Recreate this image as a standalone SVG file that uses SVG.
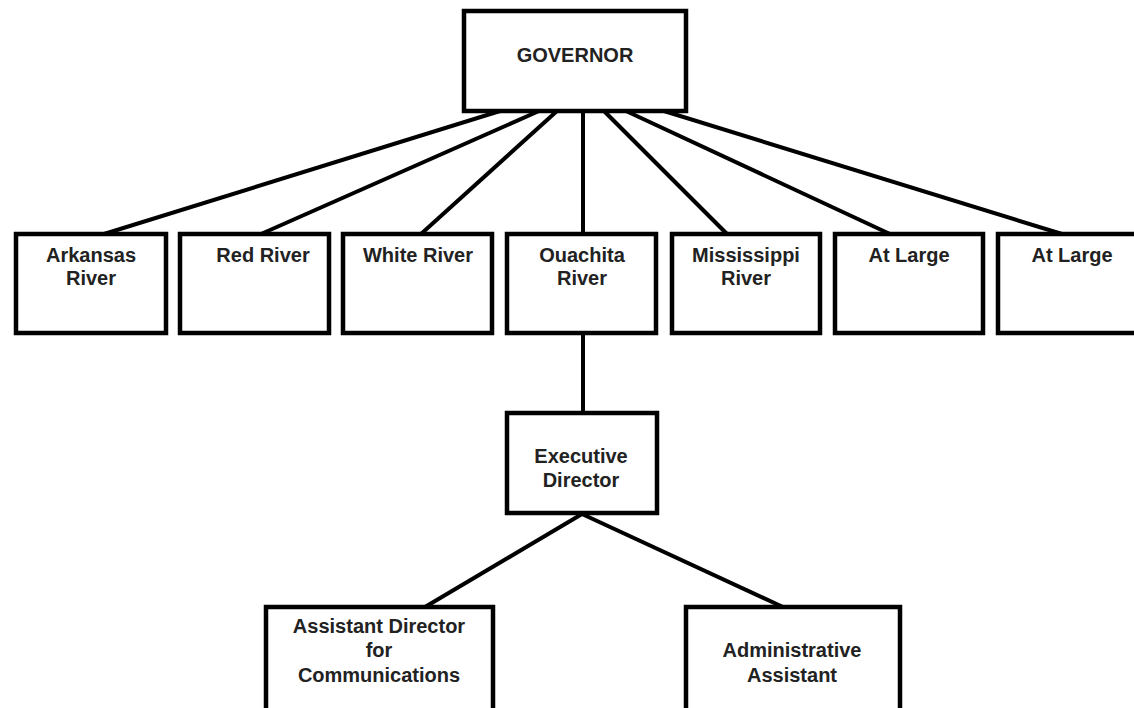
<svg xmlns="http://www.w3.org/2000/svg" width="1134" height="708" viewBox="0 0 1134 708">
<style>
.box{fill:#fff;stroke:#000;stroke-width:4.5}
.t{font-family:"Liberation Sans",Arial,sans-serif;font-weight:bold;font-size:20px;fill:#222;text-anchor:middle}
.c{stroke:#000;stroke-width:4;fill:none}
</style>
<rect width="1134" height="708" fill="#fff"/>
<g id="connectors">
<line class="c" x1="500" y1="111" x2="104" y2="234"/>
<line class="c" x1="539" y1="111" x2="261" y2="234"/>
<line class="c" x1="557" y1="111" x2="421" y2="234"/>
<line class="c" x1="583" y1="111" x2="583" y2="234"/>
<line class="c" x1="604" y1="111" x2="727" y2="234"/>
<line class="c" x1="626" y1="111" x2="890" y2="234"/>
<line class="c" x1="664" y1="111" x2="1062" y2="234"/>
<line class="c" x1="583" y1="333" x2="583" y2="413"/>
<line class="c" x1="582" y1="514" x2="425" y2="607"/>
<line class="c" x1="582" y1="514" x2="783" y2="607"/>
</g>
<g id="governor"><rect class="box" x="464" y="11" width="222" height="100"/><text class="t" x="575" y="62">GOVERNOR</text></g>
<g id="arkansas"><rect class="box" x="16" y="234" width="150" height="99"/><text class="t" x="91" y="262">Arkansas</text><text class="t" x="91" y="285">River</text></g>
<g id="red"><rect class="box" x="180" y="234" width="149" height="99"/><text class="t" x="263" y="262">Red River</text></g>
<g id="white"><rect class="box" x="343" y="234" width="149" height="99"/><text class="t" x="418" y="262">White River</text></g>
<g id="ouachita"><rect class="box" x="507" y="234" width="149" height="99"/><text class="t" x="582" y="262">Ouachita</text><text class="t" x="582" y="285">River</text></g>
<g id="mississippi"><rect class="box" x="672" y="234" width="148" height="99"/><text class="t" x="746" y="262">Mississippi</text><text class="t" x="746" y="285">River</text></g>
<g id="atlarge1"><rect class="box" x="835" y="234" width="148" height="99"/><text class="t" x="909" y="262">At Large</text></g>
<g id="atlarge2"><rect class="box" x="998" y="234" width="150" height="99"/><text class="t" x="1072" y="262">At Large</text></g>
<g id="executive"><rect class="box" x="507" y="413" width="150" height="100"/><text class="t" x="581" y="463">Executive</text><text class="t" x="581" y="487">Director</text></g>
<g id="assistant"><rect class="box" x="266" y="607" width="227" height="110"/><text class="t" x="379" y="633">Assistant Director</text><text class="t" x="379" y="657">for</text><text class="t" x="379" y="682">Communications</text></g>
<g id="admin"><rect class="box" x="686" y="607" width="214" height="110"/><text class="t" x="792" y="657">Administrative</text><text class="t" x="792" y="682">Assistant</text></g>
</svg>
